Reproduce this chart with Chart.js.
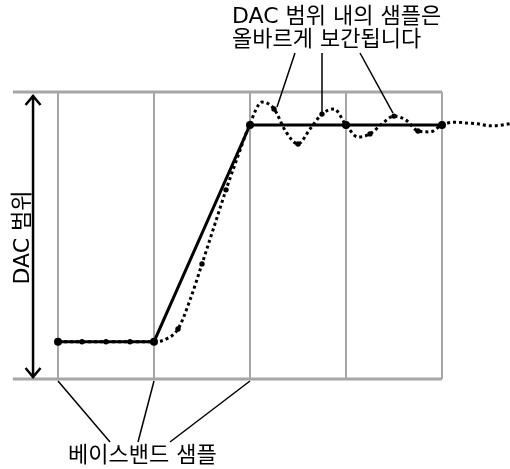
<!DOCTYPE html>
<html>
<head>
<meta charset="utf-8">
<script src="https://cdn.jsdelivr.net/npm/chart.js@4/dist/chart.umd.min.js"></script>
<style>
  html, body { margin: 0; padding: 0; background: #fff; }
  #wrap { width: 510px; height: 469px; }
</style>
</head>
<body>
<div id="wrap"><canvas id="dacChart"></canvas></div>
<script>
// baseband samples (x = sample index, y = fraction of DAC range)
const basebandX = [0, 1, 2, 3, 4];
const basebandY = [0.13, 0.13, 0.885, 0.885, 0.885];

// interpolated samples
const interpX = [0.25, 0.5, 0.75, 1.25, 1.5, 1.75, 2.25, 2.5, 2.75, 3.25, 3.5, 3.75];
const interpY = [0.13, 0.13, 0.13, 0.174, 0.401, 0.659, 0.941, 0.819, 0.923, 0.854, 0.916, 0.864];

// interpolated (dotted) curve, read every 1/8 sample
const curveX = [0, 0.25, 0.5, 0.75, 0.875, 1, 1.125, 1.25, 1.375, 1.5, 1.625, 1.75, 1.875, 2, 2.125, 2.25, 2.375, 2.5, 2.625, 2.75, 2.875, 3, 3.125, 3.25, 3.375, 3.5, 3.625, 3.75, 3.875, 4, 4.125, 4.25, 4.375, 4.5, 4.625, 4.75];
const curveY = [0.13, 0.13, 0.13, 0.13, 0.13, 0.13, 0.139, 0.174, 0.275, 0.401, 0.530, 0.659, 0.777, 0.89, 0.965, 0.941, 0.861, 0.819, 0.871, 0.923, 0.941, 0.885, 0.843, 0.854, 0.889, 0.916, 0.902, 0.864, 0.861, 0.885, 0.895, 0.892, 0.889, 0.882, 0.885, 0.892];

// DAC range lines and sample grid
const rangeY = [0, 1];
const gridX = [0, 1, 2, 3, 4];

const topLabel = ['DAC 범위 내의 샘플은', '올바르게 보간됩니다'];
const bottomLabel = '베이스밴드 샘플';
const axisLabel = 'DAC 범위';
const pointedInterp = [6, 8, 10];   // interp samples the top callout points to
const pointedBaseband = [0, 1, 2];  // baseband samples the bottom callout points to

const FONT = '22px "DejaVu Sans", "Noto Sans CJK KR", sans-serif';
const GRAY = '#a6a6a6';

const pts = (xs, ys) => xs.map((v, i) => ({ x: v, y: ys[i] }));

const datasets = [];
rangeY.forEach(v => datasets.push({
    data: [{ x: -0.47, y: v }, { x: 4, y: v }],
    borderColor: GRAY, borderWidth: 3, pointRadius: 0, order: 10
}));
gridX.forEach(v => datasets.push({
    data: [{ x: v, y: 0 }, { x: v, y: 1 }],
    borderColor: GRAY, borderWidth: 2, pointRadius: 0, order: 10
}));
datasets.push({
    data: pts(curveX, curveY),
    borderColor: '#000', borderWidth: 3, borderDash: [3, 3],
    cubicInterpolationMode: 'monotone', pointRadius: 0, order: 5
});
datasets.push({
    data: pts(basebandX, basebandY),
    borderColor: '#000', borderWidth: 3, tension: 0,
    pointRadius: 4, pointBackgroundColor: '#000', pointBorderWidth: 0, order: 3
});
datasets.push({
    data: pts(interpX, interpY), showLine: false,
    pointRadius: 2.7, pointBackgroundColor: '#000', pointBorderWidth: 0, order: 1
});

// callouts, arrow and texts
const annotations = {
    id: 'annotations',
    afterDatasetsDraw(chart) {
        const { ctx, scales: { x, y } } = chart;
        const yTop = y.getPixelForValue(1);
        const yBot = y.getPixelForValue(0);
        ctx.save();
        ctx.strokeStyle = '#000';
        ctx.fillStyle = '#000';

        // double arrow for DAC range
        const ax = x.getPixelForValue(-0.26);
        const t = yTop + 3, b = yBot - 1;
        ctx.lineWidth = 2.5;
        ctx.beginPath();
        ctx.moveTo(ax, t); ctx.lineTo(ax, b);
        ctx.moveTo(ax - 7.5, t + 10); ctx.lineTo(ax, t + 1); ctx.lineTo(ax + 7.5, t + 10);
        ctx.moveTo(ax - 7.5, b - 10); ctx.lineTo(ax, b - 1); ctx.lineTo(ax + 7.5, b - 10);
        ctx.stroke();

        ctx.font = FONT;
        ctx.textBaseline = 'middle';

        // rotated axis label
        ctx.save();
        ctx.translate(23, (yTop + yBot) / 2 + 2);
        ctx.rotate(-Math.PI / 2);
        ctx.textAlign = 'center';
        ctx.fillText(axisLabel, 0, 0);
        ctx.restore();

        // bottom callout
        ctx.lineWidth = 1.5;
        const bottomEnds = [[110, 442], [138, 442], [170, 442]];
        pointedBaseband.forEach((idx, i) => {
            ctx.beginPath();
            ctx.moveTo(x.getPixelForValue(basebandX[idx]), yBot + 2);
            ctx.lineTo(bottomEnds[i][0], bottomEnds[i][1]);
            ctx.stroke();
        });
        ctx.textAlign = 'left';
        ctx.fillText(bottomLabel, 68, 456);

        // top callout
        const topStarts = [[295, 53], [322, 53], [360, 53]];
        const offs = [[3, -2], [0, -2], [-1, -3]];
        pointedInterp.forEach((idx, i) => {
            ctx.beginPath();
            ctx.moveTo(topStarts[i][0], topStarts[i][1]);
            ctx.lineTo(x.getPixelForValue(interpX[idx]) + offs[i][0], y.getPixelForValue(interpY[idx]) + offs[i][1]);
            ctx.stroke();
        });
        ctx.fillText(topLabel[0], 232, 17);
        ctx.fillText(topLabel[1], 232, 40);
        ctx.restore();
    }
};

new Chart(document.getElementById('dacChart'), {
    type: 'line',
    data: { datasets },
    options: {
        responsive: true,
        maintainAspectRatio: false,
        animation: false,
        layout: { padding: 0, autoPadding: false },
        plugins: { legend: { display: false }, tooltip: { enabled: false } },
        scales: {
            x: { type: 'linear', min: -58 / 96, max: 452 / 96, display: false },
            y: { type: 'linear', min: -90 / 287, max: 379 / 287, display: false }
        }
    },
    plugins: [annotations]
});
</script>
</body>
</html>
